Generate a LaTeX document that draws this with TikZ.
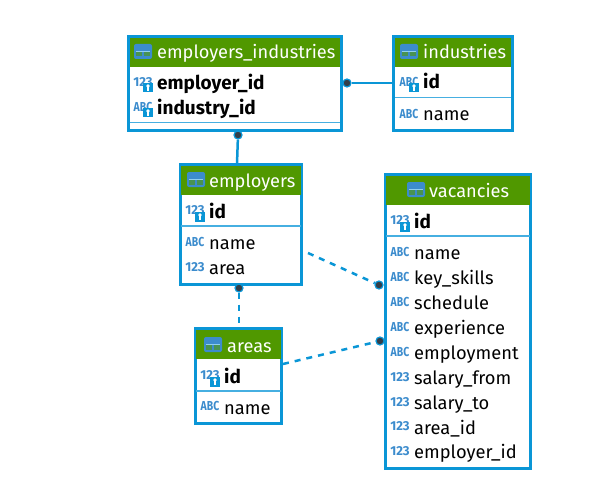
\documentclass[tikz,border=0pt]{standalone}
\usepackage{fontspec}
\setmainfont{Fira Sans}
\newfontfamily\abcfont[FakeStretch=0.8]{Fira Sans}
\usetikzlibrary{positioning}
\definecolor{dbblue}{RGB}{10,150,214}
\definecolor{dblight}{RGB}{70,175,225}
\definecolor{dbgreen}{RGB}{80,152,0}
\definecolor{dbtag}{RGB}{60,140,205}
\definecolor{dbdot}{RGB}{52,62,72}
\tikzset{
	tablebox/.style 2 args={draw=dbblue, line width=2.8pt, fill=white, inner sep=0pt, outer sep=0pt, anchor=north west, minimum width=#1pt, minimum height=#2pt},
	headbox/.style 2 args={fill=dbgreen, inner sep=0pt, outer sep=0pt, anchor=north west, minimum width=#1pt, minimum height=#2pt},
	seprule/.style={fill=dblight, inner sep=0pt, outer sep=0pt, anchor=west, minimum height=1.5pt, minimum width=#1pt},
	headtext/.style={text=white, inner sep=0pt, anchor=base west, font=\fontsize{18.2}{20}\selectfont},
	fieldtext/.style={text=black, inner sep=0pt, anchor=base west, font=\fontsize{18.3}{20}\selectfont},
	keytext/.style={text=black, inner sep=0pt, anchor=base west, font=\fontsize{19}{20}\selectfont\bfseries},
	typetag/.style={text=dbtag, inner sep=0pt, font=\fontsize{13}{13}\selectfont\bfseries},
	abctag/.style={text=dbtag, inner sep=0pt, font=\abcfont\fontsize{13}{13}\selectfont\bfseries},
	dotend/.style={circle, fill=dbdot, draw=dbblue, line width=1.2pt, inner sep=0pt, minimum size=8pt},
	fklink/.style={draw=dbblue, line width=2.5pt},
	fkdash/.style={draw=dbblue, line width=2.5pt, dash pattern=on 6pt off 6pt},
	pics/tablemark/.style={code={
		\fill[dbtag, rounded corners=2pt] (0,0) rectangle (18,15);
		\fill[dblight!60] (2,6.7) rectangle (16,8.3);
		\fill[dbgreen!60!dbtag] (2,8.3) rectangle (8.4,12.5);
		\fill[dbgreen!60!dbtag] (9.6,8.3) rectangle (16,12.5);
	}},
	pics/keymark/.style={code={
		\fill[dbblue] (0,0) rectangle (10,9.5);
		\fill[white] (5,3) circle (1.8pt);
		\fill[white] (4.4,3) rectangle (5.6,8);
	}},
}

\begin{document}
\begin{tikzpicture}[x=1pt, y=-1pt]
		\useasboundingbox (0,0) rectangle (602,492);
		
		%employers_industries
		\node[tablebox={212.5}{93.5}] (eiBox) at (128.7,36.7) {};
		\node[headbox={210.5}{29}] (eiHead) at (129.7,37.7) {};
		\node[seprule=210.5] (eiSep) at (129.7,122.7) {};
		\pic at (134,44) {tablemark};
		\node[headtext] (eiTitle) at (157,59) {employers\_industries};
		\node[typetag] (eiTag1) at (143,82) {123};
		\pic at (143,83) {keymark};
		\node[keytext] (eiField1) at (157,90) {employer\_id};
		\node[abctag] (eiTag2) at (143,107) {ABC};
		\pic at (143,108) {keymark};
		\node[keytext] (eiField2) at (157,115) {industry\_id};
		
		%industries
		\node[tablebox={118.5}{93.5}] (inBox) at (393.7,36.7) {};
		\node[headbox={116.5}{29}] (inHead) at (394.7,37.7) {};
		\node[seprule=116.5] (inSep) at (394.7,97.7) {};
		\pic at (400,44) {tablemark};
		\node[headtext] (inTitle) at (423,59) {industries};
		\node[abctag] (inTag1) at (409,82) {ABC};
		\pic at (409,83) {keymark};
		\node[keytext] (inField1) at (423,89) {id};
		\node[abctag] (inTag2) at (409,114) {ABC};
		\node[fieldtext] (inField2) at (423,121) {name};
		
		%employers
		\node[tablebox={121.5}{119.5}] (emBox) at (180.2,164.7) {};
		\node[headbox={120}{29.5}] (emHead) at (181,165.7) {};
		\node[seprule=120] (emSep) at (181,226) {};
		\pic at (187,172) {tablemark};
		\node[headtext] (emTitle) at (209,187) {employers};
		\node[typetag] (emTag1) at (195,210) {123};
		\pic at (195,212) {keymark};
		\node[keytext] (emField1) at (209,218) {id};
		\node[abctag] (emTag2) at (195,242) {ABC};
		\node[fieldtext] (emField2) at (209,249) {name};
		\node[typetag] (emTag3) at (195,267) {123};
		\node[fieldtext] (emField3) at (209,274) {area};
		
		%areas
		\node[tablebox={86.5}{94.5}] (arBox) at (195.2,328.7) {};
		\node[headbox={85}{29.5}] (arHead) at (196,329.7) {};
		\node[seprule=85] (arSep) at (196,391) {};
		\pic at (204,337) {tablemark};
		\node[headtext] (arTitle) at (227,352) {areas};
		\node[typetag] (arTag1) at (210,375) {123};
		\pic at (210,377) {keymark};
		\node[keytext] (arField1) at (224,383) {id};
		\node[abctag] (arTag2) at (210,406) {ABC};
		\node[fieldtext] (arField2) at (224,414) {name};
		
		%vacancies
		\node[tablebox={145.5}{293.5}] (vaBox) at (385.2,174.7) {};
		\node[headbox={144}{29.5}] (vaHead) at (386,175.7) {};
		\node[seprule=144] (vaSep) at (386,236) {};
		\pic at (407,182) {tablemark};
		\node[headtext] (vaTitle) at (429,197) {vacancies};
		\node[typetag] (vaTag1) at (400,220) {123};
		\pic at (400,222) {keymark};
		\node[keytext] (vaField1) at (414,228) {id};
		\node[abctag] (vaTag2) at (400,252) {ABC};
		\node[fieldtext] (vaField2) at (414,259) {name};
		\node[abctag] (vaTag3) at (400,277) {ABC};
		\node[fieldtext] (vaField3) at (414,284) {key\_skills};
		\node[abctag] (vaTag4) at (400,302) {ABC};
		\node[fieldtext] (vaField4) at (414,309) {schedule};
		\node[abctag] (vaTag5) at (400,327) {ABC};
		\node[fieldtext] (vaField5) at (414,334) {experience};
		\node[abctag] (vaTag6) at (400,352) {ABC};
		\node[fieldtext] (vaField6) at (414,359) {employment};
		\node[typetag] (vaTag7) at (400,377) {123};
		\node[fieldtext] (vaField7) at (414,384) {salary\_from};
		\node[typetag] (vaTag8) at (400,402) {123};
		\node[fieldtext] (vaField8) at (414,409) {salary\_to};
		\node[typetag] (vaTag9) at (400,426) {123};
		\node[fieldtext] (vaField9) at (414,434) {area\_id};
		\node[typetag] (vaTag10) at (400,451) {123};
		\node[fieldtext] (vaField10) at (414,458) {employer\_id};
		
		% Links
		\coordinate (emOut) at (308,253);
		\coordinate (arOut) at (283,364);
		\coordinate (emIn) at (237,164);
		\coordinate (arIn) at (239,327);
		\node[dotend] (eiDotIn) at (347,83) {};
		\node[dotend] (eiDotEm) at (238,135) {};
		\node[dotend] (emDotAr) at (239,288) {};
		\node[dotend] (vaDotEm) at (379,285) {};
		\node[dotend] (vaDotAr) at (380,341) {};
		
		\draw[fklink] (eiDotIn) -- (inBox.west |- eiDotIn);
		\draw[fklink] (eiDotEm) -- (emIn);
		\draw[fkdash] (emDotAr) -- (arIn);
		\draw[fkdash] (emOut) -- (vaDotEm);
		\draw[fkdash] (arOut) -- (vaDotAr);
	\end{tikzpicture}
\end{document}
